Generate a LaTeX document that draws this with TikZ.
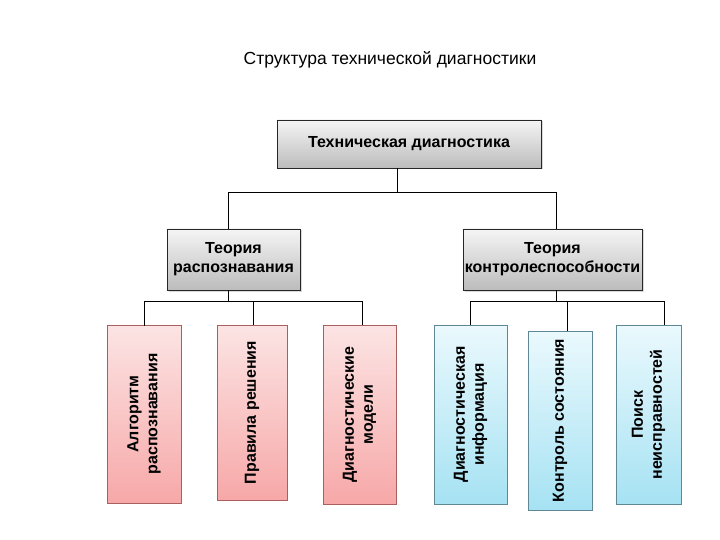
\documentclass[tikz,border=0pt]{standalone}
\usepackage{fontspec}
\setmainfont{Liberation Sans}
\usepackage{xcolor}
\usetikzlibrary{positioning, calc, shadows}
\definecolor{headgray}{RGB}{188, 188, 188}
\definecolor{pinktop}{RGB}{252, 228, 228}
\definecolor{pinkbot}{RGB}{247, 168, 168}
\definecolor{pinkline}{RGB}{170, 95, 95}
\definecolor{bluetop}{RGB}{234, 249, 253}
\definecolor{bluebot}{RGB}{166, 226, 243}
\definecolor{blueline}{RGB}{95, 135, 150}

\begin{document}
\begin{tikzpicture}[x=1pt, y=-1pt,
    conn/.style={line width=0.8pt, black},
    headbox/.style={draw=black!85, line width=0.7pt, top color=white!96!black, bottom color=headgray,
        align=center, font=\bfseries\fontsize{16}{19}\selectfont, inner sep=1pt,
        drop shadow={opacity=0.3, shadow xshift=1.5pt, shadow yshift=-1.5pt}},
    leafpink/.style={draw=pinkline, line width=0.6pt, top color=pinktop, bottom color=pinkbot,
        rotate=90, align=center, font=\bfseries\fontsize{16}{19}\selectfont, inner sep=1pt},
    leafblue/.style={leafpink, draw=blueline, top color=bluetop, bottom color=bluebot}]
    \useasboundingbox (0,0) rectangle (720,540);
    % Title
    \node (title) at (390,60) {\fontsize{17.5}{20}\selectfont Структура технической диагностики};
    % Top level
    \node[headbox, minimum width=264pt, minimum height=48pt] (td) at (409,144) {Техническая диагностика};
    % Second level
    \node[headbox, minimum width=133pt, minimum height=61pt] (tr) at (233.5,259.5) {Теория\\распознавания};
    \node[headbox, minimum width=179pt, minimum height=61pt] (tk) at (552.5,259.5) {Теория\\контролеспособности};
    % Leaves (rotated: east anchor is the top)
    \node[leafpink, minimum width=178pt, minimum height=74pt] (alg) at (144,414) {Алгоритм\\распознавания};
    \node[leafpink, minimum width=175pt, minimum height=70pt] (prav) at (252,412.5) {Правила решения};
    \node[leafpink, minimum width=179pt, minimum height=73pt] (mod) at (359.5,414.5) {Диагностические\\модели};
    \node[leafblue, minimum width=179pt, minimum height=73pt] (inf) at (470.5,414.5) {Диагностическая\\информация};
    \node[leafblue, minimum width=179pt, minimum height=64pt] (kon) at (560,420.5) {Контроль состояния};
    \node[leafblue, minimum width=179pt, minimum height=65pt] (poisk) at (648.5,414.5) {Поиск\\неисправностей};
    % Buses
    \coordinate (bus0) at (0,192);
    \coordinate (bus1) at (0,301);
    % Connectors
    \draw[conn] ([xshift=-12pt]td.south) -- ([xshift=-12pt]td.south |- bus0);
    \draw[conn] ([xshift=-5.5pt]tr.north) |- ([xshift=3.5pt]tk.north |- bus0) -- ([xshift=3.5pt]tk.north);
    \draw[conn] ([xshift=-5.5pt]tr.south) -- ([xshift=-5.5pt]tr.south |- bus1);
    \draw[conn] ([xshift=3.5pt]tk.south) -- ([xshift=3.5pt]tk.south |- bus1);
    \draw[conn] ([yshift=-1pt]alg.east) |- ([xshift=2.5pt]mod.east |- bus1) -- ([xshift=2.5pt]mod.east);
    \draw[conn] ([xshift=1pt]prav.east |- bus1) -- ([xshift=1pt]prav.east);
    \draw[conn] (inf.east) |- ([xshift=15.5pt]poisk.east |- bus1) -- ([xshift=15.5pt]poisk.east);
    \draw[conn] ([xshift=7pt]kon.east |- bus1) -- ([xshift=7pt]kon.east);
\end{tikzpicture}
\end{document}
